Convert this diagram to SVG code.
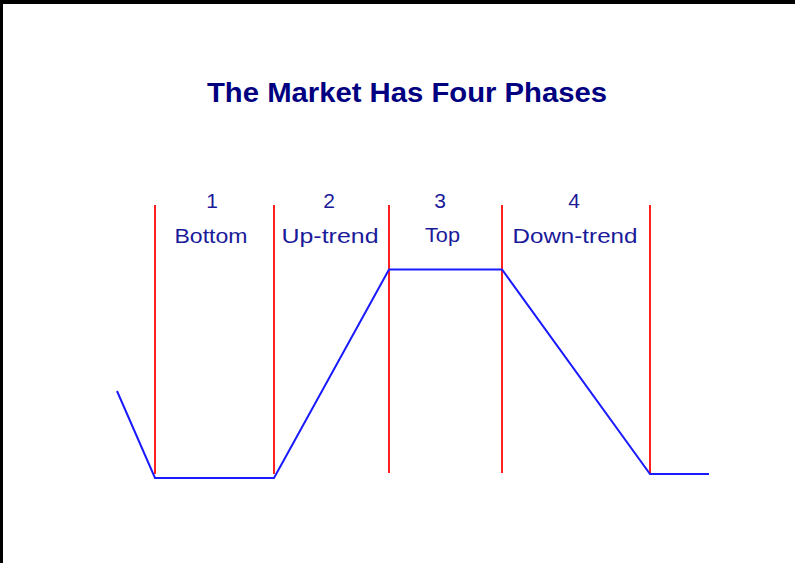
<svg xmlns="http://www.w3.org/2000/svg" width="795" height="563" viewBox="0 0 795 563">
<style>
.title{font-family:"Liberation Sans",Arial,sans-serif;font-weight:bold;font-size:27px;fill:#000080}
.lbl{font-family:"Liberation Sans",Arial,sans-serif;font-size:21px;fill:#1a1a9a;text-anchor:middle}
.num{font-family:"Liberation Sans",Arial,sans-serif;font-size:21px;fill:#1a1a9a;text-anchor:middle}
.div{stroke:#ff2020;stroke-width:2;fill:none}
.price{stroke:#1a1aff;stroke-width:2;fill:none;stroke-linejoin:miter}
</style>
<rect x="0" y="0" width="795" height="563" fill="#ffffff"/>
<rect x="0" y="0" width="795" height="4" fill="#000000"/>
<rect x="0" y="0" width="3" height="563" fill="#000000"/>
<g id="title">
<text class="title" x="207" y="102" textLength="400" lengthAdjust="spacingAndGlyphs">The Market Has Four Phases</text>
</g>
<g id="phase1">
<text class="num" x="212" y="208">1</text>
<text class="lbl" x="211" y="243" textLength="73" lengthAdjust="spacingAndGlyphs">Bottom</text>
</g>
<g id="phase2">
<text class="num" x="329" y="208">2</text>
<text class="lbl" x="330" y="243" textLength="97" lengthAdjust="spacingAndGlyphs">Up-trend</text>
</g>
<g id="phase3">
<text class="num" x="440" y="208">3</text>
<text class="lbl" x="442.5" y="242" textLength="35" lengthAdjust="spacingAndGlyphs">Top</text>
</g>
<g id="phase4">
<text class="num" x="574" y="208">4</text>
<text class="lbl" x="575" y="243" textLength="125" lengthAdjust="spacingAndGlyphs">Down-trend</text>
</g>
<g id="connectors">
<line class="div" x1="155" y1="205" x2="155" y2="474"/>
<line class="div" x1="274" y1="205" x2="274" y2="474"/>
<line class="div" x1="389" y1="205" x2="389" y2="473"/>
<line class="div" x1="502" y1="205" x2="502" y2="473"/>
<line class="div" x1="650" y1="205" x2="650" y2="473"/>
<polyline class="price" points="117,391 155,478 274,478 389,269.5 502,269.5 650,474 709,474"/>
</g>
</svg>
